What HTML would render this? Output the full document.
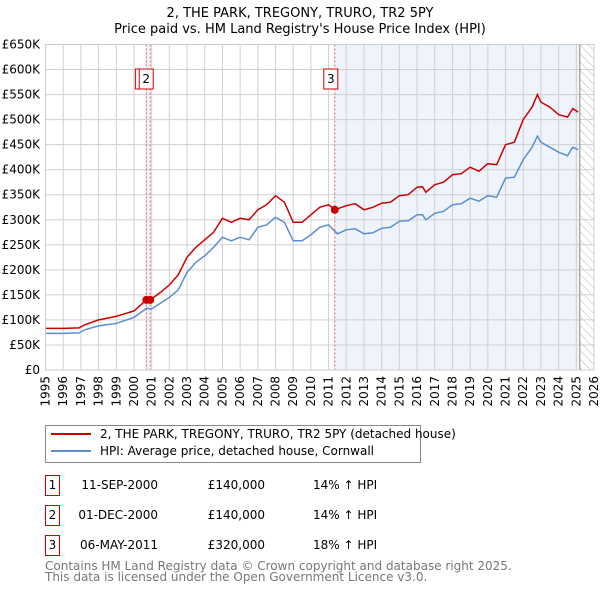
<!DOCTYPE html>
<html><head><meta charset="utf-8"><style>
body{margin:0;background:#fff;font-family:"Liberation Sans","DejaVu Sans",sans-serif;}
svg text{font-family:"DejaVu Sans","Liberation Sans",sans-serif;}
</style></head><body>
<svg id="c" width="600" height="590" viewBox="0 0 600 590" xmlns="http://www.w3.org/2000/svg">
<defs><pattern id="hatch" width="6" height="6" patternUnits="userSpaceOnUse" patternTransform="rotate(-45)"><line x1="0" y1="0" x2="0" y2="6" stroke="#bbb" stroke-width="1"/></pattern></defs>
<text x="300" y="17" text-anchor="middle" font-size="13">2, THE PARK, TREGONY, TRURO, TR2 5PY</text>
<text x="300" y="33" text-anchor="middle" font-size="13">Price paid vs. HM Land Registry's House Price Index (HPI)</text>
<g id="plot"></g>
<rect x="45.5" y="425.5" width="375" height="37" fill="#fff" stroke="#888"/>
<line x1="51" y1="434" x2="91" y2="434" stroke="#cc0000" stroke-width="2"/>
<text x="100" y="438" font-size="12">2, THE PARK, TREGONY, TRURO, TR2 5PY (detached house)</text>
<line x1="51" y1="451" x2="91" y2="451" stroke="#5b8fd0" stroke-width="2"/>
<text x="100" y="455" font-size="12">HPI: Average price, detached house, Cornwall</text>
<g font-size="12">
<rect x="45.5" y="475.5" width="14" height="20" fill="none" stroke="#cc0000"/><text x="52.5" y="489" text-anchor="middle">1</text>
<text x="158" y="489" text-anchor="end">11-SEP-2000</text><text x="265" y="489" text-anchor="end">£140,000</text><text x="313" y="489">14% ↑ HPI</text>
<rect x="45.5" y="505.5" width="14" height="20" fill="none" stroke="#cc0000"/><text x="52.5" y="519" text-anchor="middle">2</text>
<text x="158" y="519" text-anchor="end">01-DEC-2000</text><text x="265" y="519" text-anchor="end">£140,000</text><text x="313" y="519">14% ↑ HPI</text>
<rect x="45.5" y="535.5" width="14" height="20" fill="none" stroke="#cc0000"/><text x="52.5" y="549" text-anchor="middle">3</text>
<text x="158" y="549" text-anchor="end">06-MAY-2011</text><text x="265" y="549" text-anchor="end">£320,000</text><text x="313" y="549">18% ↑ HPI</text>
</g>
<text x="45" y="570" font-size="12" fill="#777">Contains HM Land Registry data © Crown copyright and database right 2025.</text>
<text x="45" y="581" font-size="12" fill="#777">This data is licensed under the Open Government Licence v3.0.</text>
</svg>
<script>
const yearTicks=[1995,1996,1997,1998,1999,2000,2001,2002,2003,2004,2005,2006,2007,2008,2009,2010,2011,2012,2013,2014,2015,2016,2017,2018,2019,2020,2021,2022,2023,2024,2025,2026];
const priceTicks=[0,50,100,150,200,250,300,350,400,450,500,550,600,650];
const priceLabels=["£0","£50K","£100K","£150K","£200K","£250K","£300K","£350K","£400K","£450K","£500K","£550K","£600K","£650K"];
const redT=[1995,1996,1996.9,1997.2,1998,1999,2000,2000.7,2000.92,2001.5,2002,2002.5,2003,2003.5,2004,2004.5,2005,2005.5,2006,2006.5,2007,2007.5,2008,2008.5,2009,2009.5,2010,2010.5,2011,2011.35,2012,2012.5,2013,2013.5,2014,2014.5,2015,2015.5,2016,2016.3,2016.5,2017,2017.5,2018,2018.5,2019,2019.5,2020,2020.5,2021,2021.5,2022,2022.5,2022.8,2023,2023.5,2024,2024.5,2024.8,2025.1];
const redV=[83,83,84,90,100,107,118,140,140,155,170,190,225,245,260,275,303,295,303,300,320,330,348,335,295,295,310,325,330,320,328,332,320,325,333,335,348,350,365,366,355,370,375,390,392,405,397,412,410,450,455,500,525,550,535,525,510,505,522,515];
const hpiT=[1995,1996,1996.9,1997.2,1998,1999,2000,2000.7,2001,2002,2002.5,2003,2003.5,2004,2004.5,2005,2005.5,2006,2006.5,2007,2007.5,2008,2008.5,2009,2009.5,2010,2010.5,2011,2011.5,2012,2012.5,2013,2013.5,2014,2014.5,2015,2015.5,2016,2016.3,2016.5,2017,2017.5,2018,2018.5,2019,2019.5,2020,2020.5,2021,2021.5,2022,2022.5,2022.8,2023,2023.5,2024,2024.5,2024.8,2025.1];
const hpiV=[73,73,74,80,88,93,105,123,122,145,160,195,215,228,245,265,258,265,260,285,290,305,295,258,258,270,285,290,272,280,282,272,274,283,285,297,298,310,310,300,313,317,330,332,343,337,348,345,383,385,420,445,467,455,445,435,428,445,440];
const saleT=[2000.7,2000.92,2011.35];
const saleV=[140,140,320];
const saleLbl=["1","2","3"];
const L=45.5,R=594,T=44.5,B=370;
const X=y=>L+(y-1995)*(R-L)/31;
const Y=v=>B-v*(B-T)/650;
const NS="http://www.w3.org/2000/svg";
const g=document.getElementById('plot');
function mk(tag,attrs,parent){const e=document.createElementNS(NS,tag);for(const k in attrs)e.setAttribute(k,attrs[k]);(parent||g).appendChild(e);return e;}
let e=mk('rect',{x:X(saleT[2]),y:T,width:X(2025.2)-X(saleT[2]),height:B-T,fill:'#eef3fc'});


e=mk('rect',{x:X(saleT[0]),y:T,width:X(saleT[1])-X(saleT[0]),height:B-T,fill:'#eef3fc'});


e=mk('rect',{x:X(2025.2),y:T,width:R-X(2025.2),height:B-T,fill:'url(#hatch)'});


yearTicks.forEach(yr=>{
 const l=mk('line',{x1:X(yr),x2:X(yr),y1:T,y2:B,stroke:'#d0d0d0','stroke-width':1});
 
 
 const t=mk('text',{transform:`translate(${X(yr)+4},${B+6}) rotate(-90)`,'text-anchor':'end','font-size':12});
 t.textContent=yr;
 
 
});
priceTicks.forEach((v,i)=>{
 const l=mk('line',{x1:L,x2:R,y1:Y(v),y2:Y(v),stroke:'#d0d0d0','stroke-width':1});
 
 
 const t=mk('text',{x:40,y:Y(v)+4,'text-anchor':'end','font-size':12});
 t.textContent=priceLabels[i];
 
 
});
e=mk('line',{x1:X(2025.2),x2:X(2025.2),y1:T,y2:B,stroke:'#888','stroke-width':1});


saleT.forEach((t,i)=>{
 const l=mk('line',{x1:X(t),x2:X(t),y1:T,y2:B,stroke:'#e06060','stroke-width':1,'stroke-dasharray':'2,2'});
 
 
});
function path(ts,vs,col,name){
 const d=ts.map((t,i)=>(i?'L':'M')+X(t).toFixed(1)+','+Y(vs[i]).toFixed(1)).join(' ');
 const p=mk('path',{d:d,fill:'none',stroke:col,'stroke-width':1.5});
 
 
}
path(hpiT,hpiV,'#5b8fd0','hpi-line');
path(redT,redV,'#cc0000','property-price-line');
saleT.forEach((t,i)=>{
 const c=mk('circle',{cx:X(t),cy:Y(saleV[i]),r:4,fill:'#cc0000'});
 
 
});
[0,1,2].forEach(i=>{
 const bx=X(saleT[i])-11;
 const r=mk('rect',{x:bx,y:69,width:14,height:20,fill:'#fff',stroke:'#cc0000'});
 
 
 const t=mk('text',{x:bx+7,y:83,'text-anchor':'middle','font-size':12});
 t.textContent=i==0?'':saleLbl[i];
 
 
});
e=mk('rect',{x:L,y:T,width:R-L,height:B-T,fill:'none',stroke:'#ccc'});


</script>
</body></html>
